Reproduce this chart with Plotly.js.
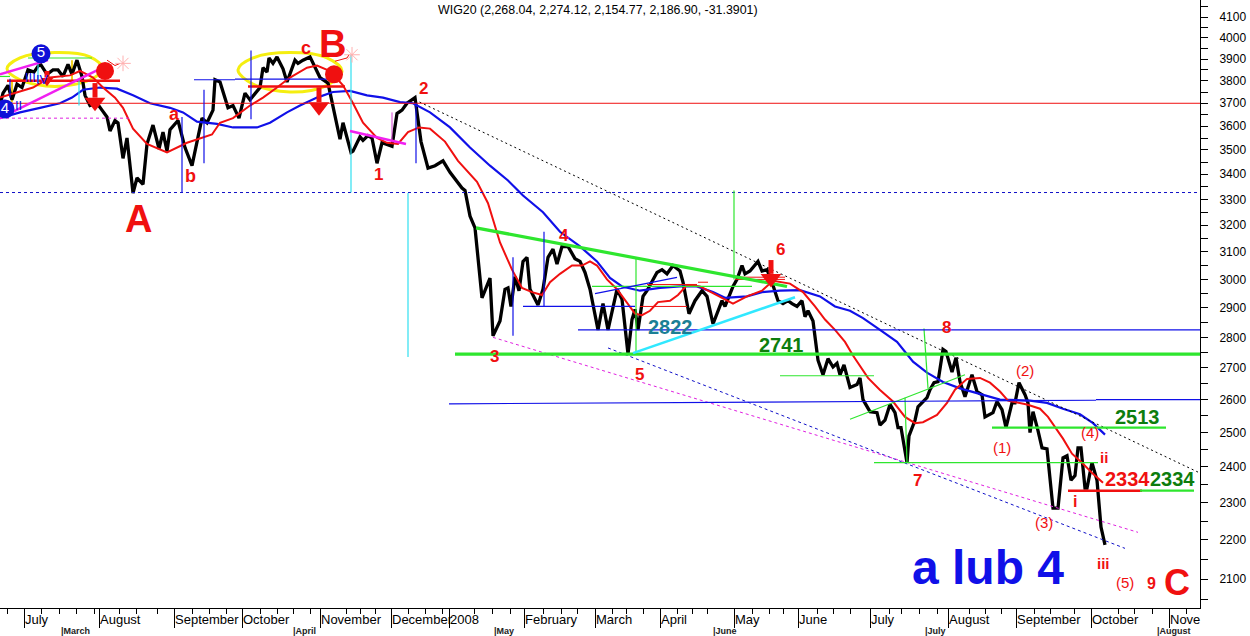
<!DOCTYPE html>
<html>
<head>
<meta charset="utf-8">
<script src="https://cdn.plot.ly/plotly-3.0.1.min.js"></script>
<style>html,body{margin:0;padding:0;background:#fff}#chart{width:1250px;height:636px}</style>
</head>
<body>
<div id="chart"></div>
<script>
// ---------- chart values: sessions (horizontal chart position) and index prices ----------
const priceX = [1,3,8,12,17,22,28,34,40,47,53,58,63,68,72,77,82,85,90,97,102,107,110,115,118,123,127,133,137,143,147,153,159,163,167,170,178,185,192,197,202,207,213,215,220,228,233,239,245,250,260,263,267,269,273,277,283,287,295,298,303,310,320,328,333,340,343,351,353,360,363,368,372,377,382,392,397,402,407,415,421,428,435,443,450,457,462,465,470,475,478,482,490,493,500,505,508,511,515,519,523,527,530,538,543,548,553,557,562,568,575,580,585,590,598,603,608,617,622,628,632,635,638,643,647,657,662,667,673,680,683,689,695,702,707,713,722,725,733,737,742,745,750,758,762,767,772,778,783,788,792,797,802,805,808,813,818,823,828,833,837,840,844,850,857,860,863,870,877,880,885,890,895,898,901,907,909,915,918,927,930,934,938,943,946,952,956,960,965,972,977,982,985,993,997,1002,1006,1012,1015,1019,1025,1028,1030,1033,1038,1042,1047,1050,1053,1058,1063,1067,1071,1075,1078,1081,1085,1087,1092,1097,1099,1101,1105];
const priceY = [3710,3745,3780,3715,3785,3770,3850,3840,3880,3830,3850,3850,3820,3875,3830,3895,3820,3735,3690,3700,3670,3640,3580,3625,3615,3465,3550,3325,3385,3360,3525,3605,3505,3575,3495,3585,3625,3510,3435,3540,3635,3615,3670,3805,3795,3680,3690,3635,3745,3715,3770,3860,3840,3905,3880,3910,3855,3795,3895,3880,3895,3910,3815,3790,3680,3545,3615,3490,3495,3555,3540,3560,3550,3445,3530,3515,3655,3670,3700,3725,3535,3425,3435,3455,3408,3370,3345,3335,3235,3190,3075,2935,3005,2805,2855,2965,2970,2905,3010,2960,3065,3080,2965,2910,2965,3080,3110,3055,3120,3120,3075,3065,3025,2965,2825,2915,2825,2965,2930,2745,2860,2895,2825,2940,2960,3025,3035,3020,3050,3030,2990,2880,2925,2960,2940,2845,2925,2905,2975,3000,3050,3020,3030,3065,3030,3035,2990,2925,2915,2925,2915,2905,2925,2870,2890,2855,2725,2678,2730,2703,2715,2678,2710,2638,2647,2668,2600,2563,2560,2522,2537,2585,2560,2515,2515,2412,2490,2537,2578,2606,2631,2653,2656,2760,2753,2687,2733,2656,2609,2678,2625,2615,2547,2560,2594,2569,2515,2590,2590,2653,2615,2590,2500,2563,2506,2455,2452,2362,2285,2285,2426,2432,2362,2375,2455,2455,2340,2340,2412,2362,2297,2234,2187];

const redMaX = [0,33,50,70,80,93,103,115,123,133,147,167,187,212,220,233,250,263,277,290,307,317,330,343,353,363,377,387,398,408,419,430,445,458,477,488,500,512,522,532,542,550,560,572,582,590,597,607,617,627,635,642,650,658,670,678,687,700,717,733,747,762,773,790,803,815,825,835,845,853,868,880,893,905,915,923,937,947,955,967,980,990,1000,1008,1027,1040,1048,1057,1063,1072,1083,1093,1103];
const redMaY = [3725,3770,3815,3825,3845,3815,3770,3725,3680,3590,3525,3490,3530,3565,3615,3635,3690,3725,3770,3815,3860,3870,3845,3780,3700,3615,3550,3530,3525,3575,3595,3590,3535,3455,3370,3285,3135,3035,2970,2955,2945,2990,3020,3050,3050,3065,3050,3000,2965,2915,2880,2875,2890,2920,2925,2945,2980,2975,2945,2915,2940,2960,2995,2985,2955,2905,2860,2825,2785,2740,2668,2630,2594,2547,2528,2531,2553,2590,2631,2665,2668,2653,2625,2597,2585,2572,2547,2506,2482,2438,2409,2380,2355];

const blueMaX = [0,20,40,60,72,83,100,117,133,150,170,183,197,217,233,257,270,287,300,317,333,350,367,383,400,413,430,450,470,490,508,523,543,560,580,597,610,622,640,660,680,697,713,725,747,762,780,800,820,835,850,863,880,897,913,927,943,960,977,1000,1030,1047,1063,1080,1093,1105];
const blueMaY = [3635,3660,3680,3700,3725,3760,3770,3765,3735,3700,3680,3660,3620,3610,3595,3595,3615,3660,3690,3725,3750,3755,3735,3725,3705,3700,3660,3595,3510,3435,3375,3315,3250,3175,3120,3065,3005,2975,2960,2970,2975,2975,2955,2935,2940,2955,2960,2962,2940,2905,2890,2865,2825,2785,2720,2685,2655,2635,2620,2600,2597,2590,2572,2555,2528,2494];

const monthTicks = [24,99,174,242,320,391,449,524,595,660,734,798,870,948,1016,1091,1169];
const monthLabels = ["July","August","September","October","November","December","2008","February","March","April","May","June","July","August","September","October","Nove"];
const weekTicks = [7,41,59,76,94,119,136,157,192,209,226,260,277,293,310,346,360,375,408,425,442,474,492,510,543,561,577,612,626,643,677,692,707,752,769,783,817,833,850,889,901,919,937,969,985,1001,1034,1050,1074,1118,1134,1152,1186];
const subTicks = [59,291,492,711,923,1155];
const subLabels = ["March","April","May","June","July","August"];
const priceTicks = [2100,2200,2300,2400,2500,2600,2700,2800,2900,3000,3100,3200,3300,3400,3500,3600,3700,3800,3900,4000,4100];
const priceMinorTicks = [2050,2150,2250,2350,2450,2550,2650,2750,2850,2950,3050,3150,3250,3350,3450,3550,3650,3750,3850,3950,4050,4150];

// Drawn studies: [x0, price0, x1, price1]
const redThin = [[0,3700,1200,3700],[643,2975,697,2975],[647,2982,697,2982],[698,2990,708,2990],[735,3000,785,3000],[735,3008,785,3008],[640,2905,687,2905]];
const redThick = [[7,3800,120,3800],[248,3775,345,3775],[1068,2333,1142,2333]];
const greenThick = [[455,2745,1200,2745],[476,3190,787,2975]];
const greenMid = [[992,2515,1166,2515],[1140,2333,1194,2333]];
const greenThin = [[874,2412,1098,2412],[636,3075,636,2748],[734,3335,734,3000],[592,2975,752,2975],[850,2540,965,2678],[924,2830,928,2635],[905,2606,907,2412],[780,2675,874,2675],[28,3905,92,3905],[0,3820,10,3820]];
const blueSolid = [[578,2825,1200,2825],[449,2587,912,2595],[912,2595,1096,2598],[1096,2600,1200,2600],[513,3080,513,2805],[544,3175,544,2905],[523,2905,635,2905],[595,2950,677,3007],[182,3640,182,3327],[204,3760,204,3445],[251,3940,251,3630],[416,3700,416,3445],[194,3805,235,3805],[235,3808,328,3808],[10,3810,10,3725]];
const cyanThick = [[633,2748,795,2937]];
const cyanThin = [[408,3325,408,2735],[351,3920,351,3327],[79,3805,79,3690],[38,3910,38,3790]];
const magentaThick = [[0,3830,48,3895],[0,3635,100,3855],[350,3580,406,3525]];
const magentaThin = [[392,3660,392,3540]];
const yellowThin = [[12,3805,12,3705],[72,3895,72,3790],[13,3800,33,3800]];
const blackDashed = [[415,3715,1198,2385]];
const blueDashed = [[0,3327,1200,3327],[608,2765,1125,2178]];
const magentaDashed = [[0,3635,130,3635],[493,2800,1138,2220]];

const ellipseLeftX = [7,20,55,90,103,90,55,20,7];
const ellipseLeftY = [3855,3905,3930,3910,3855,3805,3775,3805,3855];
const ellipseRightX = [238,253,290,327,342,327,290,253,238];
const ellipseRightY = [3850,3905,3930,3905,3845,3780,3750,3785,3850];

const bombX = [105,334];
const bombY = [3845,3830];
const sparkX = [123,352];
const sparkY = [3880,3920];
const fuses = [[107,3895,115,3870],[115,3870,120,3880],[335,3890,347,3905],[347,3905,349,3920]];
const arrowShafts = [[95,3790,95,3725],[319,3770,319,3705],[771,3070,771,3020],[47,3845,47,3815]];
const arrowHeadX = [95,319,771,47];
const arrowHeadY = [3705,3685,3003,3800];
const circleX = [41,5];
const circleY = [3925,3675];
const circleLabels = ["5","4"];

// ---------- text labels ----------
// [text, x, top-relative pixel row, size, colour, bold]
const RED = "#f01010", DG = "#0d7d0d";
const labels = [
 ["A",138,219,38,RED,1],["B",332,44,38,RED,1],["C",1177,582,36,RED,1],
 ["a",174,114,18,RED,1],["b",190,176,18,RED,1],["c",306,48,18,RED,1],
 ["1",378,175,17,RED,1],["2",423,89,17,RED,1],["3",494,356,17,RED,1],["4",564,236,17,RED,1],
 ["5",639,374,17,RED,1],["6",780,249,17,RED,1],["7",917,481,17,RED,1],["8",946,327,17,RED,1],["9",1151,583,16,RED,1],
 ["(1)",1002,447,15,RED,0],["(2)",1025,370,15,RED,0],["(3)",1044,522,15,RED,0],["(4)",1090,432,15,RED,0],["(5)",1125,582,15,RED,0],
 ["i",1075,501,16,RED,1],["ii",1104,457,15,RED,1],["iii",1103,563,15,RED,1],
 ["2334",1127,479,20,RED,1],["2334",1172,479,20,DG,1],["2513",1137,417,20,DG,1],["2741",781,345,20,DG,1],["2822",670,327,20,"#1b7f95",1],
 ["a lub 4",988,567,48,"#1010e8",1],
 ["II",18,105,13,"#1010e8",0],["III",30,77,13,"#1010e8",0],["IV",42,79,13,"#1010e8",0]
];

const PLOT_H = 608;
const py = row => 1 - row / PLOT_H;

const segs = list => {
  const x = [], y = [];
  list.forEach(s => { x.push(s[0], s[2], null); y.push(s[1], s[3], null); });
  return {x, y};
};
const segTrace = (list, color, width, dash) => ({
  type: "scatter", mode: "lines", ...segs(list),
  line: {color, width, dash: dash || "solid"}, hoverinfo: "skip", showlegend: false, connectgaps: false
});
const curve = (x, y, color, width, shape) => ({
  type: "scatter", mode: "lines", x, y, line: {color, width, shape: shape || "linear"}, hoverinfo: "skip", showlegend: false
});
const LIME = "#2ee62e";

const traces = [
  curve(ellipseLeftX, ellipseLeftY, "#f5ee10", 3, "spline"),
  curve(ellipseRightX, ellipseRightY, "#f5ee10", 3, "spline"),
  segTrace(yellowThin, "#f0d020", 2),
  curve(priceX, priceY, "#000000", 3.3),
  curve(blueMaX, blueMaY, "#1010e8", 2.2),
  curve(redMaX, redMaY, "#f01010", 2),
  segTrace(blackDashed, "#000000", 1, "2px,3px"),
  segTrace(blueDashed, "#1010c8", 1, "3px,3px"),
  segTrace(magentaDashed, "#e020e0", 1, "3px,3px"),
  segTrace(redThin, "#f01010", 1),
  segTrace(redThick, "#f01010", 2.5),
  segTrace(greenThin, LIME, 1.2),
  segTrace(greenMid, LIME, 2.2),
  segTrace(greenThick, LIME, 3.2),
  segTrace(blueSolid, "#1010e8", 1.2),
  segTrace(cyanThick, "#30e8ff", 2.6),
  segTrace(cyanThin, "#30e0f0", 1.2),
  segTrace(magentaThick, "#f020f0", 2.4),
  segTrace(magentaThin, "#d040d0", 1),
  segTrace(fuses, "#f01010", 1),
  segTrace(arrowShafts, "#f01010", 5),
  {type:"scatter",mode:"markers",x:arrowHeadX,y:arrowHeadY,hoverinfo:"skip",showlegend:false,
    marker:{symbol:"triangle-down",size:[18,18,18,11],opacity:1,color:"#f01010",line:{width:0}}},
  {type:"scatter",mode:"markers",x:bombX,y:bombY,hoverinfo:"skip",showlegend:false,
    marker:{symbol:"circle",size:18,opacity:1,color:"#f01010",line:{width:0}}},
  {type:"scatter",mode:"markers",x:sparkX,y:sparkY,hoverinfo:"skip",showlegend:false,
    marker:{symbol:"asterisk-open",size:13,color:"#ffb0b0",line:{width:1,color:"#ffa8a8"}}},
  {type:"scatter",mode:"markers+text",x:circleX,y:circleY,text:circleLabels,textposition:"middle center",
    textfont:{family:"Liberation Sans",size:15,color:"#ffffff"},hoverinfo:"skip",showlegend:false,
    marker:{symbol:"circle",size:19,opacity:1,color:"#1010d8",line:{width:0}}}
];

const annotations = [];
labels.forEach(l => annotations.push({
  text: l[5] ? "<b>" + l[0] + "</b>" : l[0], xref: "x", yref: "paper", x: l[1], y: py(l[2]),
  xanchor: "center", yanchor: "middle", showarrow: false,
  font: {family: "Liberation Sans", size: l[3], color: l[4]}
}));
monthTicks.forEach((t, i) => annotations.push({
  text: monthLabels[i], xref: "x", yref: "paper", x: t, y: py(620), xshift: -1,
  xanchor: "left", yanchor: "middle", showarrow: false,
  font: {family: "Liberation Sans", size: 13, color: "#000"}
}));
subTicks.forEach((t, i) => annotations.push({
  text: "<b>|" + subLabels[i] + "</b>", xref: "x", yref: "paper", x: t, y: py(631),
  xanchor: "left", yanchor: "middle", showarrow: false,
  font: {family: "Liberation Sans", size: 9, color: "#222"}
}));
annotations.push({
  text: "WIG20 (2,268.04, 2,274.12, 2,154.77, 2,186.90, -31.3901)", xref: "x", yref: "paper", x: 598, y: py(10),
  xanchor: "center", yanchor: "middle", showarrow: false,
  font: {family: "Liberation Sans", size: 12.4, color: "#000"}
});

const layout = {
  width: 1250, height: 636,
  margin: {l: 0, r: 50, t: 0, b: 28, pad: 0},
  paper_bgcolor: "#fff", plot_bgcolor: "#fff",
  showlegend: false,
  hovermode: false,
  font: {family: "Liberation Sans", color: "#000"},
  xaxis: {
    type: "linear", range: [0, 1200], showgrid: false, zeroline: false,
    showline: true, linecolor: "#000", linewidth: 1,
    ticks: "outside", tickvals: monthTicks, ticklen: 19, tickcolor: "#000", tickwidth: 1, showticklabels: false,
    minor: {ticks: "outside", tickvals: weekTicks, ticklen: 5, tickcolor: "#000", tickwidth: 1, showgrid: false}
  },
  yaxis: {
    type: "log", range: [3.6216 - PLOT_H / 1934, 3.6216], side: "right", showgrid: false, zeroline: false,
    showline: true, linecolor: "#000", linewidth: 1,
    ticks: "outside", tickvals: priceTicks, ticktext: priceTicks.map(String), ticklen: 7, tickcolor: "#000", tickwidth: 1,
    ticklabelstandoff: 9, tickfont: {family: "Liberation Sans", size: 12, color: "#000"},
    minor: {ticks: "outside", tickvals: priceMinorTicks, ticklen: 7, tickcolor: "#000", tickwidth: 1, showgrid: false}
  },
  annotations
};

Plotly.newPlot("chart", traces, layout, {staticPlot: true, displayModeBar: false});
</script>
</body>
</html>
